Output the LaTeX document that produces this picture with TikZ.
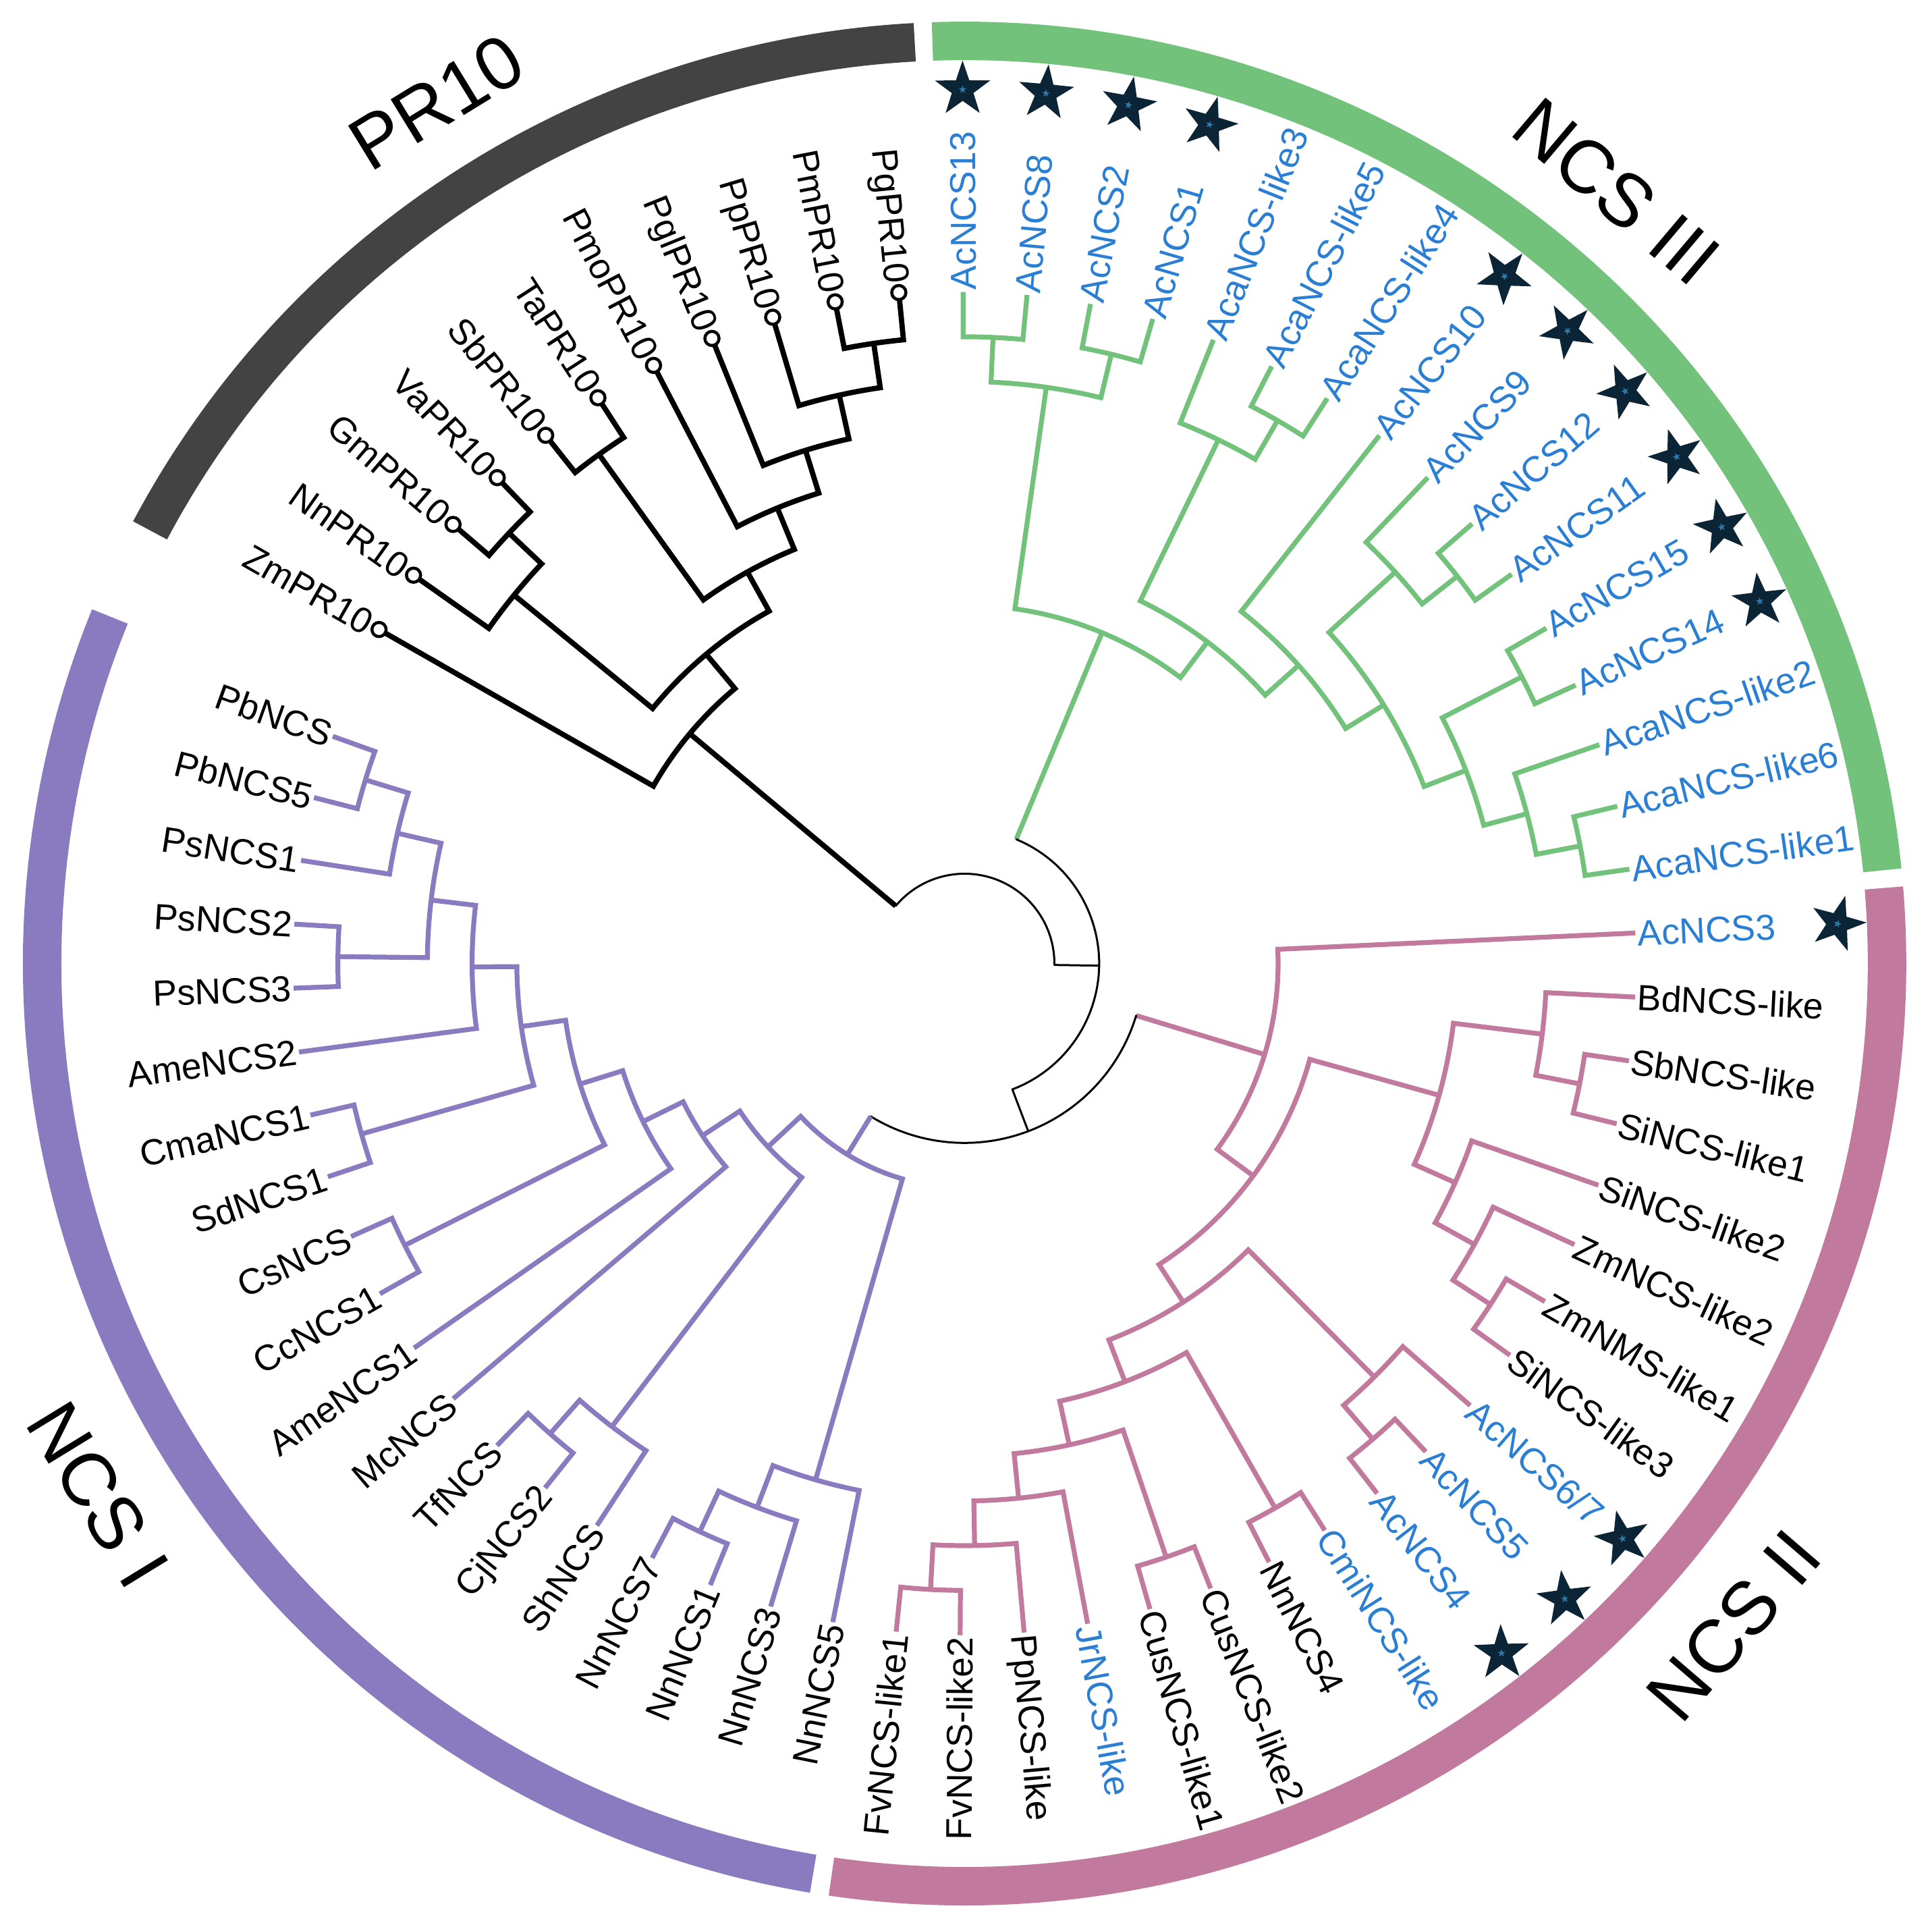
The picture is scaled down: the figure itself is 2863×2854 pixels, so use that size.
\documentclass[tikz,border=0pt]{standalone}
\usepackage{fontspec}
\setmainfont{Liberation Sans}
\usetikzlibrary{shapes.geometric}
\definecolor{cIII}{HTML}{72C27B}
\definecolor{cII}{HTML}{C17A9E}
\definecolor{cI}{HTML}{8A7BC1}
\definecolor{cPR}{HTML}{434343}
\definecolor{lblue}{HTML}{2A7FD4}
\definecolor{starc}{HTML}{0B2436}
\definecolor{stard}{HTML}{2F78A8}
\tikzset{
  br/.style={line width=7.2pt, line join=miter},
  brPR/.style={br, black, line width=7.8pt},
  brIII/.style={br, cIII},
  brII/.style={br, cII},
  brI/.style={br, cI},
  rootln/.style={line width=3pt, black, line cap=round},
  leaflab/.style={font=\fontsize{53.5pt}{60pt}\selectfont, inner sep=0pt, text height=38.3pt, text depth=0pt},
  grplab/.style={font=\fontsize{111pt}{124pt}\selectfont, inner sep=0pt},
  band/.style={line width=57pt},
  starbig/.style={star, star points=5, star point ratio=2.55, minimum size=86pt, inner sep=0pt, fill=starc, draw=none},
  starsmall/.style={star, star points=5, star point ratio=2.55, minimum size=12pt, inner sep=0pt, fill=stard, draw=none},
}
\newcommand\TLabL[3]{%
  \pgfmathsetmacro\lfr{\lfa+180}%
  \node[leaflab, text=#3, anchor=east, rotate=\lfr] (#1-lab) at (\lfa:998pt) {#2};%
}
\newcommand\TLeaf[4]{%
  \pgfmathsetmacro\lfa{150.3-5.47*#2}%
  \expandafter\xdef\csname ang-#1\endcsname{\lfa}%
  \expandafter\xdef\csname hgt-#1\endcsname{0}%
  \coordinate (#1) at (\lfa:995pt);%
  \ifnum#2<11\relax
    \TLabL{#1}{#3}{#4}%
  \else\ifnum#2>43\relax
    \TLabL{#1}{#3}{#4}%
  \else
    \node[leaflab, text=#4, anchor=west, rotate=\lfa] (#1-lab) at (\lfa:998pt) {#3};%
  \fi\fi
}
\newcommand\PLeaf[3]{%
  \pgfmathsetmacro\lfa{150.3-5.47*#2}%
  \pgfmathsetmacro\lfr{\lfa+180}%
  \expandafter\xdef\csname ang-#1\endcsname{\lfa}%
  \expandafter\xdef\csname hgt-#1\endcsname{0}%
  \coordinate (#1) at (\lfa:988pt);%
  \coordinate (#1-tip) at (\lfa:999pt);%
  \draw[black, line width=4.5pt] (#1-tip) circle[radius=10.5pt];%
  \node[leaflab, anchor=east, rotate=\lfr] (#1-lab) at (\lfa:1013pt) {#3};%
}
\newcommand\JPrep[3]{%
  \edef\jca{\csname ang-#2\endcsname}%
  \edef\jcb{\csname ang-#3\endcsname}%
  \pgfmathsetmacro\jna{(\jca+\jcb)/2}%
  \pgfmathsetmacro\jnh{max(\csname hgt-#2\endcsname,\csname hgt-#3\endcsname)+1}%
  \pgfmathsetmacro\jnr{995-66.3*\jnh}%
  \expandafter\xdef\csname ang-#1\endcsname{\jna}%
  \expandafter\xdef\csname hgt-#1\endcsname{\jnh}%
  \coordinate (#1) at (\jna:\jnr pt);%
  \coordinate (#1-a) at (\jca:\jnr pt);%
  \coordinate (#1-b) at (\jcb:\jnr pt);%
}
\newcommand\TJoin[4]{%
  \JPrep{#1}{#2}{#3}%
  \draw[#4] (#2) -- (#1-a) arc[start angle=\jca, end angle=\jcb, radius=\jnr pt] -- (#3);%
}
\newcommand\RJoin[6]{%
  \JPrep{#1}{#2}{#3}%
  \draw[#4] (#2) -- (#1-a);%
  \draw[#5] (#1-a) arc[start angle=\jca, end angle=\jcb, radius=\jnr pt];%
  \draw[#6] (#1-b) -- (#3);%
}
\newcommand\TStar[1]{%
  \edef\sa{\csname ang-#1\endcsname}%
  \pgfmathsetmacro\sr{\sa-90}%
  \node[starbig, rotate=\sr] (#1-star) at (\sa:1295pt) {};%
  \node[starsmall, rotate=\sr] (#1-dot) at (\sa:1295pt) {};%
}
\begin{document}
\begin{tikzpicture}
\fill[white] (-1429.4pt,-1426.4pt) rectangle (1433.6pt,1427.6pt);
\useasboundingbox (-1429.4pt,-1426.4pt) rectangle (1433.6pt,1427.6pt);
% outer bands
\draw[band, cPR] (93.1:1367pt) arc[start angle=93.1, end angle=152.0, radius=1367pt];
\draw[band, cIII] (5.8:1367pt) arc[start angle=5.8, end angle=92.0, radius=1367pt];
\draw[band, cII] (-98.3:1367pt) arc[start angle=-98.3, end angle=4.7, radius=1367pt];
\draw[band, cI] (-202.1:1367pt) arc[start angle=-202.1, end angle=-99.45, radius=1367pt];
% PR10 leaves
\PLeaf{L0}{0}{ZmPR10}
\PLeaf{L1}{1}{NnPR10}
\PLeaf{L2}{2}{GmPR10}
\PLeaf{L3}{3}{VaPR10}
\PLeaf{L4}{4}{SbPR10}
\PLeaf{L5}{5}{TaPR10}
\PLeaf{L6}{6}{PmoPR10}
\PLeaf{L7}{7}{PglPR10}
\PLeaf{L8}{8}{PpPR10}
\PLeaf{L9}{9}{PmPR10}
\PLeaf{L10}{10}{PgPR10}
% NCS III leaves
\TLeaf{L11}{11}{AcNCS13}{lblue}
\TLeaf{L12}{12}{AcNCS8}{lblue}
\TLeaf{L13}{13}{AcNCS2}{lblue}
\TLeaf{L14}{14}{AcNCS1}{lblue}
\TLeaf{L15}{15}{AcaNCS-like3}{lblue}
\TLeaf{L16}{16}{AcaNCS-like5}{lblue}
\TLeaf{L17}{17}{AcaNCS-like4}{lblue}
\TLeaf{L18}{18}{AcNCS10}{lblue}
\TLeaf{L19}{19}{AcNCS9}{lblue}
\TLeaf{L20}{20}{AcNCS12}{lblue}
\TLeaf{L21}{21}{AcNCS11}{lblue}
\TLeaf{L22}{22}{AcNCS15}{lblue}
\TLeaf{L23}{23}{AcNCS14}{lblue}
\TLeaf{L24}{24}{AcaNCS-like2}{lblue}
\TLeaf{L25}{25}{AcaNCS-like6}{lblue}
\TLeaf{L26}{26}{AcaNCS-like1}{lblue}
% NCS II leaves
\TLeaf{L27}{27}{AcNCS3}{lblue}
\TLeaf{L28}{28}{BdNCS-like}{black}
\TLeaf{L29}{29}{SbNCS-like}{black}
\TLeaf{L30}{30}{SiNCS-like1}{black}
\TLeaf{L31}{31}{SiNCS-like2}{black}
\TLeaf{L32}{32}{ZmNCS-like2}{black}
\TLeaf{L33}{33}{ZmNMS-like1}{black}
\TLeaf{L34}{34}{SiNCS-like3}{black}
\TLeaf{L35}{35}{AcNCS6/7}{lblue}
\TLeaf{L36}{36}{AcNCS5}{lblue}
\TLeaf{L37}{37}{AcNCS4}{lblue}
\TLeaf{L38}{38}{CmiNCS-like}{lblue}
\TLeaf{L39}{39}{NnNCS4}{black}
\TLeaf{L40}{40}{CusNCS-like2}{black}
\TLeaf{L41}{41}{CusNCS-like1}{black}
\TLeaf{L42}{42}{JrNCS-like}{lblue}
\TLeaf{L43}{43}{PpNCS-like}{black}
\TLeaf{L44}{44}{FvNCS-like2}{black}
\TLeaf{L45}{45}{FvNCS-like1}{black}
% NCS I leaves
\TLeaf{L46}{46}{NnNCS5}{black}
\TLeaf{L47}{47}{NnNCS3}{black}
\TLeaf{L48}{48}{NnNCS1}{black}
\TLeaf{L49}{49}{NnNCS7}{black}
\TLeaf{L50}{50}{ShNCS}{black}
\TLeaf{L51}{51}{CjNCS2}{black}
\TLeaf{L52}{52}{TfNCS}{black}
\TLeaf{L53}{53}{McNCS}{black}
\TLeaf{L54}{54}{AmeNCS1}{black}
\TLeaf{L55}{55}{CcNCS1}{black}
\TLeaf{L56}{56}{CsNCS}{black}
\TLeaf{L57}{57}{SdNCS1}{black}
\TLeaf{L58}{58}{CmaNCS1}{black}
\TLeaf{L59}{59}{AmeNCS2}{black}
\TLeaf{L60}{60}{PsNCS3}{black}
\TLeaf{L61}{61}{PsNCS2}{black}
\TLeaf{L62}{62}{PsNCS1}{black}
\TLeaf{L63}{63}{PbNCS5}{black}
\TLeaf{L64}{64}{PbNCS}{black}
% PR10 clade
\TJoin{p1}{L2}{L3}{brPR}
\TJoin{p2}{L1}{p1}{brPR}
\TJoin{p3}{L4}{L5}{brPR}
\TJoin{p4}{L9}{L10}{brPR}
\TJoin{p5}{L8}{p4}{brPR}
\TJoin{p6}{L7}{p5}{brPR}
\TJoin{p7}{L6}{p6}{brPR}
\TJoin{p8}{p3}{p7}{brPR}
\TJoin{p9}{p2}{p8}{brPR}
\TJoin{p10}{L0}{p9}{brPR}
% NCS III clade
\TJoin{g1}{L11}{L12}{brIII}
\TJoin{g2}{L13}{L14}{brIII}
\TJoin{g3}{g1}{g2}{brIII}
\TJoin{g4}{L16}{L17}{brIII}
\TJoin{g5}{L15}{g4}{brIII}
\TJoin{g6}{L20}{L21}{brIII}
\TJoin{g7}{L19}{g6}{brIII}
\TJoin{g8}{L22}{L23}{brIII}
\TJoin{g9}{L25}{L26}{brIII}
\TJoin{g10}{L24}{g9}{brIII}
\TJoin{g11}{g8}{g10}{brIII}
\TJoin{g12}{g7}{g11}{brIII}
\TJoin{g13}{L18}{g12}{brIII}
\TJoin{g14}{g5}{g13}{brIII}
\TJoin{g15}{g3}{g14}{brIII}
% NCS II clade
\TJoin{m1}{L29}{L30}{brII}
\TJoin{m2}{L28}{m1}{brII}
\TJoin{m3}{L33}{L34}{brII}
\TJoin{m4}{L32}{m3}{brII}
\TJoin{m5}{L31}{m4}{brII}
\TJoin{m6}{m2}{m5}{brII}
\TJoin{m7}{L36}{L37}{brII}
\TJoin{m8}{L35}{m7}{brII}
\TJoin{m9}{L38}{L39}{brII}
\TJoin{m10}{L40}{L41}{brII}
\TJoin{m11}{L44}{L45}{brII}
\TJoin{m12}{L43}{m11}{brII}
\TJoin{m13}{L42}{m12}{brII}
\TJoin{m14}{m10}{m13}{brII}
\TJoin{m15}{m9}{m14}{brII}
\TJoin{m16}{m8}{m15}{brII}
\TJoin{m17}{m6}{m16}{brII}
\TJoin{m18}{L27}{m17}{brII}
% NCS I clade
\TJoin{v1}{L48}{L49}{brI}
\TJoin{v2}{L47}{v1}{brI}
\TJoin{v3}{L46}{v2}{brI}
\TJoin{v4}{L51}{L52}{brI}
\TJoin{v5}{L50}{v4}{brI}
\TJoin{v6}{L55}{L56}{brI}
\TJoin{v7}{L57}{L58}{brI}
\TJoin{v8}{L60}{L61}{brI}
\TJoin{v9}{L63}{L64}{brI}
\TJoin{v10}{L62}{v9}{brI}
\TJoin{v11}{v8}{v10}{brI}
\TJoin{v12}{L59}{v11}{brI}
\TJoin{v13}{v7}{v12}{brI}
\TJoin{v14}{v6}{v13}{brI}
\TJoin{v15}{L54}{v14}{brI}
\TJoin{v16}{L53}{v15}{brI}
\TJoin{v17}{v5}{v16}{brI}
\TJoin{v18}{v3}{v17}{brI}
% root levels
\RJoin{nB}{m18}{v18}{brII}{rootln}{brI}
\RJoin{nA}{g15}{nB}{brIII}{rootln}{rootln}
\RJoin{nR}{p10}{nA}{brPR}{rootln}{rootln}
% stars
\TStar{L11}\TStar{L12}\TStar{L13}\TStar{L14}
\TStar{L18}\TStar{L19}\TStar{L20}\TStar{L21}\TStar{L22}\TStar{L23}
\TStar{L27}
\TStar{L35}\TStar{L36}\TStar{L37}
% group labels
\node[grplab, rotate=31.5] (gPR) at (121.5:1497pt) {PR10};
\node[grplab, rotate=-40.2] (gIII) at (49.8:1497pt) {NCS III};
\node[grplab, rotate=49.3] (gII) at (-40.7:1504pt) {NCS II};
\node[grplab, rotate=-58.5] (gI) at (-148.5:1506pt) {NCS I};
\end{tikzpicture}
\end{document}
